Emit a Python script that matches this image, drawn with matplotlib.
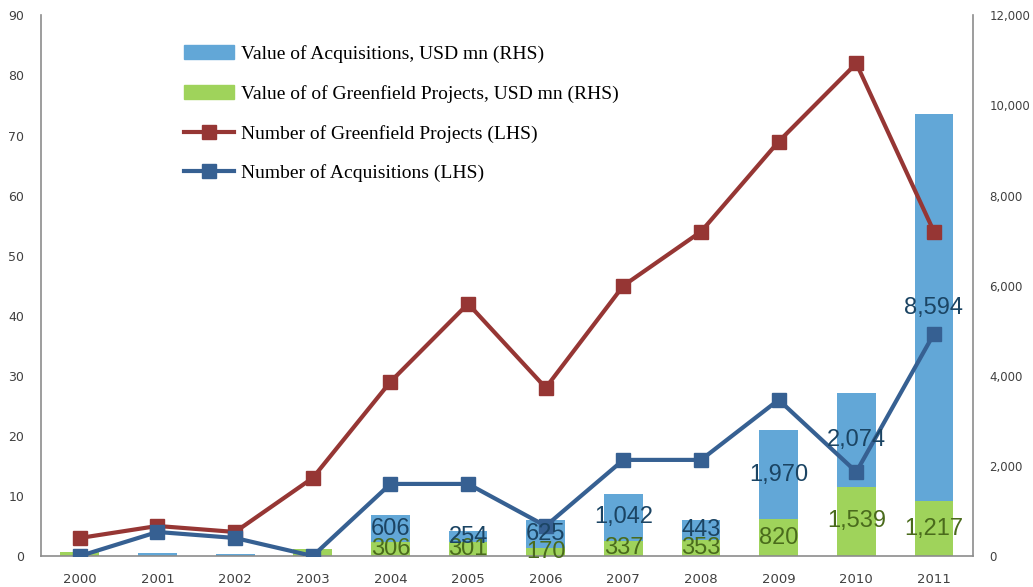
import numpy as np
import matplotlib.pyplot as plt
from matplotlib.ticker import FuncFormatter
from matplotlib.patches import Patch
from matplotlib.lines import Line2D

# ------------------------------------------------------------
# data
# ------------------------------------------------------------
years = ['2000', '2001', '2002', '2003', '2004', '2005',
         '2006', '2007', '2008', '2009', '2010', '2011']

# values, USD mn (right axis)
val_greenfield = [90, 0, 0, 150, 306, 301, 170, 337, 353, 820, 1539, 1217]
val_acquisitions = [0, 75, 35, 0, 606, 254, 625, 1042, 443, 1970, 2074, 8594]

# counts (left axis)
num_greenfield = [3, 5, 4, 13, 29, 42, 28, 45, 54, 69, 82, 54]
num_acquisitions = [0, 4, 3, 0, 12, 12, 5, 16, 16, 26, 14, 37]

# only the later years carry data labels
first_labelled = 4

c_acq_bar = '#62a7d7'
c_gf_bar = '#9fd35b'
c_gf_line = '#963634'
c_acq_line = '#366092'
c_spine = '#8c8c8c'

fig = plt.figure(figsize=(10.33, 5.87), dpi=100)
ax = fig.add_axes([0.0397, 0.0528, 0.902, 0.921])
ax2 = ax.twinx()

x = np.arange(len(years))
w = 0.5

# bars on the right axis, lines on the left axis drawn above them
ax2.bar(x, val_greenfield, w, color=c_gf_bar, zorder=2)
ax2.bar(x, val_acquisitions, w, bottom=val_greenfield, color=c_acq_bar, zorder=2)
ax.set_zorder(ax2.get_zorder() + 1)
ax.patch.set_visible(False)

ax.plot(x, num_greenfield, color=c_gf_line, lw=3, marker='s', ms=10,
        solid_joinstyle='miter', zorder=3)
ax.plot(x, num_acquisitions, color=c_acq_line, lw=3, marker='s', ms=10,
        solid_joinstyle='miter', zorder=3)

# centred data labels on the stacked segments
for i in range(first_labelled, len(years)):
    g = val_greenfield[i]
    a = val_acquisitions[i]
    ax.text(x[i], g / 2, f'{g:,}', transform=ax2.transData, ha='center',
            va='center', fontsize=17, color='#4a6b1c', family='Liberation Sans',
            zorder=5)
    ax.text(x[i], g + a / 2, f'{a:,}', transform=ax2.transData, ha='center',
            va='center', fontsize=17, color='#1b4463', family='Liberation Sans',
            zorder=5)

ax.set_xlim(-0.5, len(years) - 0.5)
ax.set_ylim(0, 90)
ax2.set_ylim(0, 12000)
ax.set_yticks(np.arange(0, 91, 10))
ax2.set_yticks(np.arange(0, 12001, 2000))
ax2.yaxis.set_major_formatter(FuncFormatter(lambda v, p: f'{int(v):,}'))
ax.set_xticks(x)
ax.set_xticklabels(years)

for a_ in (ax, ax2):
    a_.tick_params(length=0, labelsize=9, colors='#404040')
    for s in a_.spines.values():
        s.set_visible(False)
ax.tick_params(axis='x', pad=12, labelsize=9.5)
ax.tick_params(axis='y', pad=12)
ax2.tick_params(axis='y', pad=12, labelsize=8.5)
ax.spines['left'].set_visible(True)
ax.spines['bottom'].set_visible(True)
ax2.spines['right'].set_visible(True)
for s in (ax.spines['left'], ax.spines['bottom'], ax2.spines['right']):
    s.set_color(c_spine)
    s.set_linewidth(1.2)

# legend
handles = [
    Patch(color=c_acq_bar),
    Patch(color=c_gf_bar),
    Line2D([], [], color=c_gf_line, lw=3, marker='s', ms=10),
    Line2D([], [], color=c_acq_line, lw=3, marker='s', ms=10),
]
labels = ['Value of Acquisitions, USD mn (RHS)',
          'Value of of Greenfield Projects, USD mn (RHS)',
          'Number of Greenfield Projects (LHS)',
          'Number of Acquisitions (LHS)']
ax.legend(handles, labels, loc='upper left', bbox_to_anchor=(0.135, 0.978),
          frameon=False, prop={'family': 'Liberation Serif', 'size': 14},
          handlelength=2.58, handleheight=0.77, handletextpad=0.35,
          labelspacing=1.12, numpoints=1)

plt.savefig('out.png', dpi=100)
plt.close()
